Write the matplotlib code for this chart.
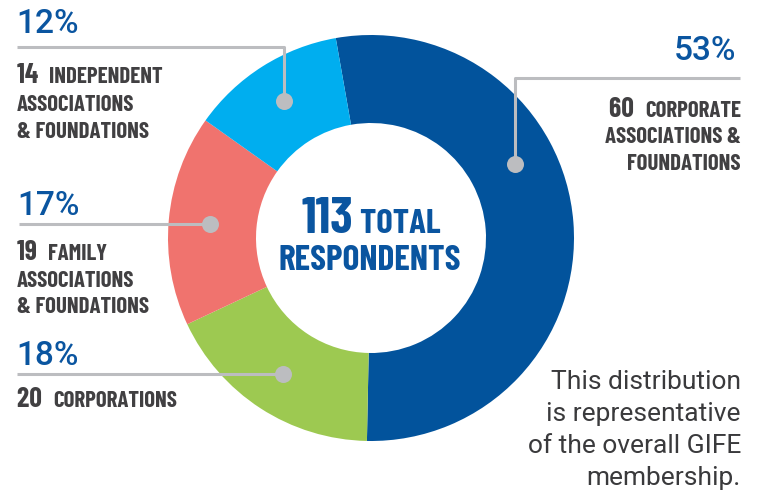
import matplotlib
matplotlib.use("Agg")
import matplotlib.pyplot as plt
from matplotlib import font_manager
import numpy as np

# ---------------- data ----------------
categories = ["CORPORATE ASSOCIATIONS & FOUNDATIONS", "CORPORATIONS",
              "FAMILY ASSOCIATIONS & FOUNDATIONS", "INDEPENDENT ASSOCIATIONS & FOUNDATIONS"]
counts = [60, 20, 19, 14]
percents = ["53%", "18%", "17%", "12%"]
total = 113
colors = ["#02539C", "#9DC951", "#F0736E", "#00AEEF"]

W, H = 760, 491
def Y(y):
    return H - y

names = {f.name for f in font_manager.fontManager.ttflist}
def pick(cands):
    for c in cands:
        if c in names:
            return c
    return "DejaVu Sans"

COND = pick(["Barlow Condensed", "Roboto Condensed", "Liberation Sans Narrow"])
REG = pick(["Roboto", "DejaVu Sans"])
LIGHT = pick(["Roboto", "DejaVu Sans"])

DARK = "#414042"
BLUE = "#0A55A0"
GREY = "#BCBDC0"

fig = plt.figure(figsize=(W / 100, H / 100), dpi=100)
ax = fig.add_axes([0, 0, 1, 1])

cx, cy = 371, Y(238)
R_out, R_in = 203, 115
wedges, _ = ax.pie(counts, colors=colors, startangle=100, counterclock=False,
                   radius=R_out, center=(cx, cy),
                   wedgeprops=dict(width=R_out - R_in, linewidth=0))
ax.set_xlim(0, W)
ax.set_ylim(0, H)
ax.set_aspect("equal")
ax.axis("off")

# anchor dots on the ring
pos_frac = [0.62, 0.5, 0.5, 0.5]
R_dot = 162
anchors = []
for w, f in zip(wedges, pos_frac):
    t = np.deg2rad(w.theta1 + f * (w.theta2 - w.theta1))
    anchors.append((cx + R_dot * np.cos(t), cy + R_dot * np.sin(t)))

renderer = fig.canvas.get_renderer()

def rich_line(x, y, parts, ha="left"):
    """parts: list of (text, size). Draw consecutive texts on a baseline."""
    cur = x
    seq = parts if ha == "left" else list(reversed(parts))
    for s, sz in seq:
        t = ax.text(cur, y, s, fontsize=sz, family=COND, fontweight="bold",
                    color=DARK, ha=ha, va="baseline")
        bb = t.get_window_extent(renderer)
        cur = bb.x1 if ha == "left" else bb.x0

BIG, SMALL = 20, 16.5
PCT = 24

# ---- 53% (right) ----
ax.text(736, Y(60), percents[0], fontsize=PCT, family=REG, fontweight="medium",
        color=BLUE, ha="right", va="baseline")
ax.plot([740, anchors[0][0], anchors[0][0]], [Y(78), Y(78), anchors[0][1]],
        color=GREY, lw=2.2, solid_capstyle="butt", zorder=3)
rich_line(741, Y(117), [(str(counts[0]) + "  ", BIG), ("CORPORATE", SMALL)], ha="right")
rich_line(741, Y(143), [("ASSOCIATIONS &", SMALL)], ha="right")
rich_line(741, Y(170), [("FOUNDATIONS", SMALL)], ha="right")

# ---- 12% (top left) ----
ax.text(16, Y(33), percents[3], fontsize=PCT, family=REG, fontweight="medium",
        color=BLUE, ha="left", va="baseline")
ax.plot([17, anchors[3][0], anchors[3][0]], [Y(47), Y(47), anchors[3][1]],
        color=GREY, lw=2.2, solid_capstyle="butt", zorder=3)
rich_line(17, Y(83), [(str(counts[3]) + "  ", BIG), ("INDEPENDENT", SMALL)])
rich_line(17, Y(111), [("ASSOCIATIONS", SMALL)])
rich_line(17, Y(138), [("& FOUNDATIONS", SMALL)])

# ---- 17% ----
ax.text(17, Y(215), percents[2], fontsize=PCT, family=REG, fontweight="medium",
        color=BLUE, ha="left", va="baseline")
ax.plot([19, anchors[2][0]], [anchors[2][1], anchors[2][1]],
        color=GREY, lw=2.2, solid_capstyle="butt", zorder=3)
rich_line(17, Y(260), [(str(counts[2]) + "  ", BIG), ("FAMILY", SMALL)])
rich_line(17, Y(287), [("ASSOCIATIONS", SMALL)])
rich_line(17, Y(313), [("& FOUNDATIONS", SMALL)])

# ---- 18% ----
ax.text(16, Y(365), percents[1], fontsize=PCT, family=REG, fontweight="medium",
        color=BLUE, ha="left", va="baseline")
ax.plot([17, anchors[1][0]], [anchors[1][1], anchors[1][1]],
        color=GREY, lw=2.2, solid_capstyle="butt", zorder=3)
rich_line(17, Y(407), [(str(counts[1]) + "  ", BIG), ("CORPORATIONS", SMALL)])

# dots
for (px, py) in anchors:
    ax.scatter([px], [py], s=150, color=GREY, zorder=4, linewidths=0)

# ---- center text ----
t1 = ax.text(0, Y(233), str(total), fontsize=37, family=COND, fontweight="bold",
             color=BLUE, ha="left", va="baseline")
t2 = ax.text(0, Y(233), " TOTAL", fontsize=25, family=COND, fontweight="bold",
             color=BLUE, ha="left", va="baseline")
w1 = t1.get_window_extent(renderer).width
w2 = t2.get_window_extent(renderer).width
x0 = cx - (w1 + w2) / 2
t1.set_x(x0)
t2.set_x(x0 + w1)
ax.text(cx - 1, Y(270), "RESPONDENTS", fontsize=25.5, family=COND, fontweight="bold",
        color=BLUE, ha="center", va="baseline")

# ---- note ----
note = ["This distribution", "is representative", "of the overall GIFE", "membership."]
for i, line in enumerate(note):
    ax.text(741, Y(389 + 32 * i), line, fontsize=19, family=LIGHT, fontweight="normal",
            color="#3A3A3C", ha="right", va="baseline")

fig.savefig("out.png", dpi=100)
